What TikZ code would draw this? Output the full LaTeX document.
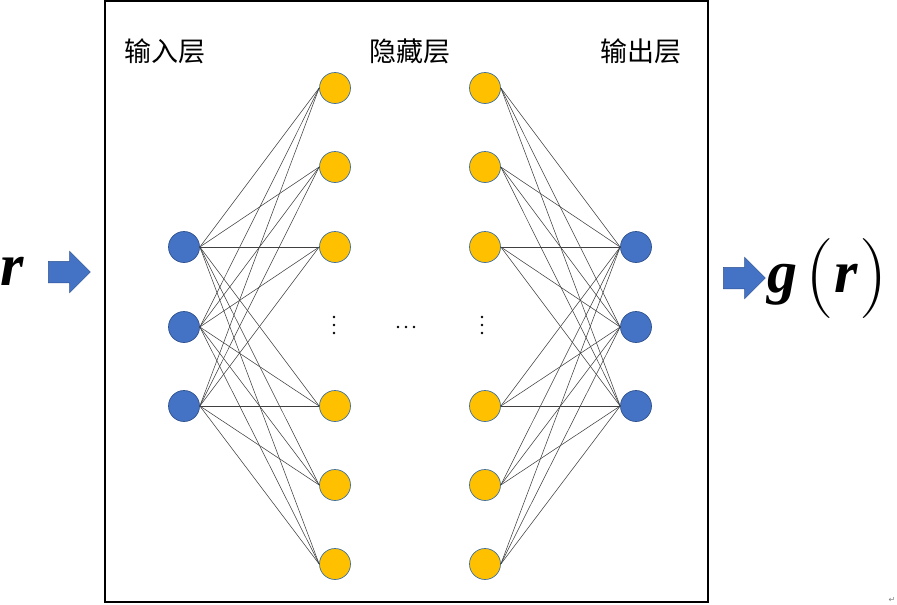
\documentclass[tikz,border=0pt]{standalone}
\usepackage{fontspec}
\newfontfamily\timesbi{Liberation Serif}[UprightFont={* Bold Italic}]
\newfontfamily\cjk{Noto Sans CJK SC}
\newfontfamily\arrowfont{DejaVu Sans}
\usetikzlibrary{shapes.arrows}
\definecolor{NodeBlue}{HTML}{4472C4}
\definecolor{EdgeBlue}{HTML}{2F528F}
\definecolor{NodeGold}{HTML}{FFC000}
\definecolor{RimBlue}{HTML}{41719C}
\newcommand{\tallparen}[1]{\raisebox{-6pt}{\normalfont\fontsize{80}{80}\selectfont#1}}

\begin{document}
\begin{tikzpicture}[x=1pt,y=-1pt,
    inlayer/.style={circle,inner sep=0pt,minimum size=31pt,
      fill=NodeBlue,draw=EdgeBlue,line width=0.7pt},
    hidlayer/.style={circle,inner sep=0pt,minimum size=31pt,
      fill=NodeGold,draw=RimBlue,line width=0.7pt},
    wire/.style={draw=black!75,line width=0.55pt},
    blockarrow/.style={single arrow,inner xsep=0pt,inner ysep=10.5pt,
      single arrow head extend=10pt,minimum height=42pt,
      fill=NodeBlue,draw=EdgeBlue,line width=0.5pt},
    layername/.style={font=\cjk\fontsize{27}{30}\selectfont},
    bigvar/.style={anchor=base west,inner sep=0pt,
      font=\timesbi\fontsize{60}{60}\selectfont}]
        \useasboundingbox (0,0) rectangle (897,605);
        \draw[line width=1.8pt] (105,1) rectangle (708,602);

        % layer titles
        \node[layername] (tin) at (165,51) {输入层};
        \node[layername] (thid) at (410,51) {隐藏层};
        \node[layername] (tout) at (641,51) {输出层};

        \foreach \i/\y in {1/247,2/327,3/406}{
          \node[inlayer] (in\i) at (184,\y) {};
          \node[inlayer] (out\i) at (636,\y) {};
        }
        \foreach \j/\y in {1/88,2/167,3/247,4/406,5/485,6/564}{
          \node[hidlayer] (ha\j) at (335,\y) {};
          \node[hidlayer] (hb\j) at (485,\y) {};
        }
        \foreach \i in {1,2,3}
          \foreach \j in {1,...,6}{
            \draw[wire] (in\i.east) -- (ha\j.west);
            \draw[wire] (hb\j.east) -- (out\i.west);
          }

        % skipped layers
        \foreach \d in {-8,0,8}{
          \fill (334,325+\d) circle (1.3);
          \fill (482,325+\d) circle (1.3);
          \fill (406+\d,327) circle (1.3);
        }

        % input and output
        \node[bigvar] (xin) at (0,285) {r};
        \node[blockarrow] (ain) at (64,272) {};
        \node[blockarrow] (aout) at (739,278) {};
        \node[bigvar] (gout) at (767,292)
          {g\hspace{8pt}\tallparen{(}\hspace{1pt}r\hspace{2pt}\tallparen{)}};
        \node[font=\arrowfont\fontsize{8}{8}\selectfont,text=black!50] (pm) at (892,600) {↵};
      \end{tikzpicture}
\end{document}
